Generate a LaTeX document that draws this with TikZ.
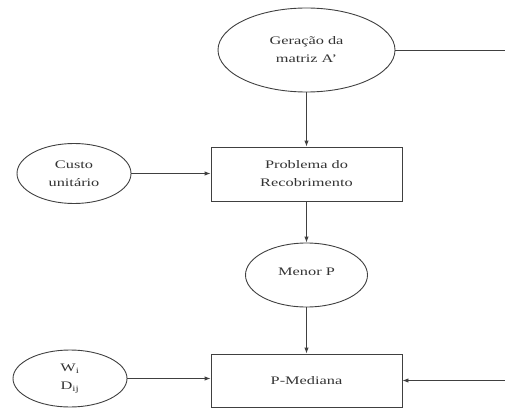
\documentclass[tikz,border=0pt]{standalone}
\usepackage{fontspec}
\setmainfont{Liberation Serif}[FakeStretch=1.42]
\usetikzlibrary{shapes.geometric,arrows.meta}
\begin{document}
\begin{tikzpicture}[x=1pt,y=-1pt,
  every node/.style={font=\fontsize{11.5}{18}\selectfont, text=black!80, align=center},
  oval/.style={draw=black!75, line width=0.9pt, ellipse, inner sep=0pt},
  boxn/.style={draw=black!75, line width=0.9pt, rectangle, inner sep=0pt, minimum width=191pt, minimum height=54pt},
  conn/.style={draw=black!75, line width=0.9pt},
  arr/.style={conn, -{Latex[length=6pt,width=4.5pt]}}]
\useasboundingbox (0,0) rectangle (505,409);
\node[oval, minimum width=177pt, minimum height=84pt] (gen) at (306.5,50) {Geração da\\matriz A’};
\node[boxn] (prob) at (306.5,174) {Problema do\\Recobrimento};
\node[oval, minimum width=114pt, minimum height=60pt] (custo) at (74,173.5) {Custo\\unitário};
\node[oval, minimum width=122pt, minimum height=64pt] (menor) at (306.5,275) {\raisebox{7pt}{Menor P}};
\node[boxn, minimum height=53pt] (pm) at (306.5,380.5) {P-Mediana};
\node[oval, minimum width=114pt, minimum height=57pt] (wd) at (70,378.5) {W\textsubscript{i}\\D\textsubscript{ij}};
\coordinate (tr) at (505,50);
\coordinate (br) at (505,380.5);
\draw[conn] (gen.east) -- (tr);
\draw[arr] (gen.south) -- (prob.north);
\draw[arr] (custo.east) -- (custo.east -| prob.west);
\draw[arr] (prob.south) -- (menor.north);
\draw[arr] (menor.south) -- (pm.north);
\draw[arr] (wd.east) -- (wd.east -| pm.west);
\draw[arr] (br) -- (pm.east);
\end{tikzpicture}
\end{document}
